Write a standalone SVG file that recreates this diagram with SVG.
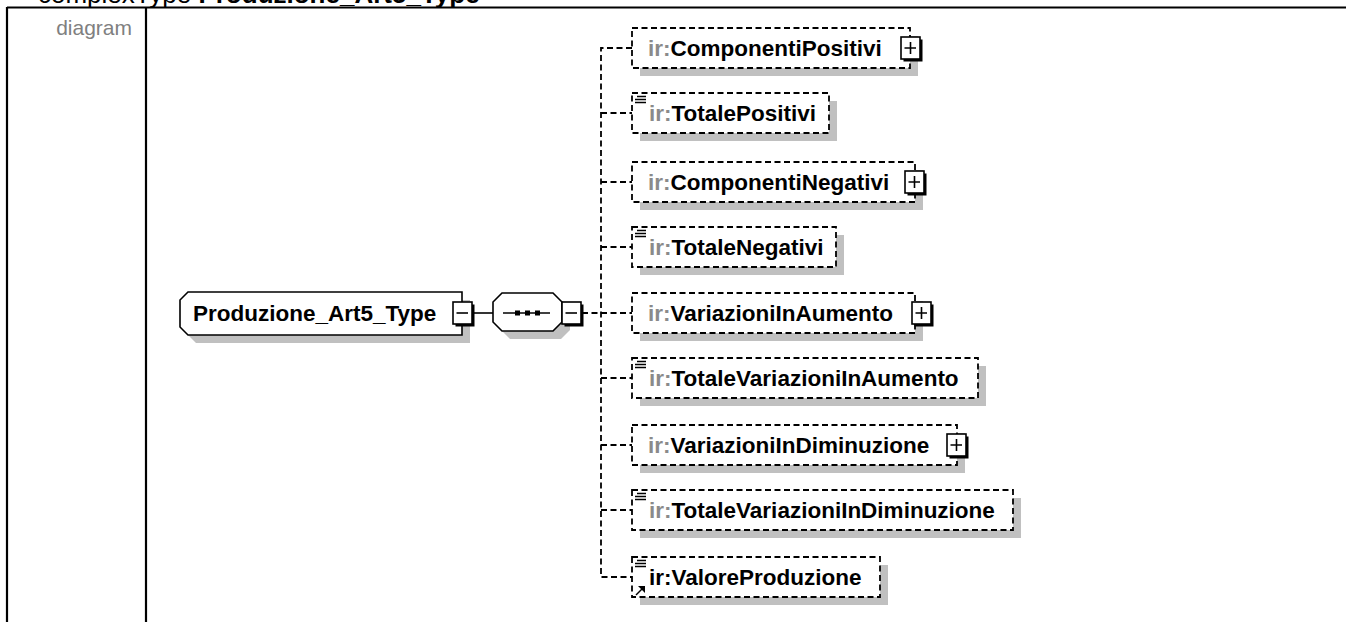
<svg xmlns="http://www.w3.org/2000/svg" width="1346" height="622" viewBox="0 0 1346 622">
<style>
.frame{stroke:#000;stroke-width:2.2;fill:none}
.hdr{font-family:"Liberation Sans",Arial,sans-serif;font-size:26px;fill:#000}
.lbl{font-family:"Liberation Sans",Arial,sans-serif;font-size:21px;fill:#808080}
.name{font-family:"Liberation Sans",Arial,sans-serif;font-size:22.5px;font-weight:bold;fill:#000}
.pfx{fill:#8a8a8a}
.shadow{fill:#c0c0c0}
.solid{fill:#fff;stroke:#000;stroke-width:1.6}
.dashed{fill:#fff;stroke:#000;stroke-width:1.8;stroke-dasharray:6 3.5}
.conn{fill:none;stroke:#000;stroke-width:1.6}
.dconn{fill:none;stroke:#000;stroke-width:1.8;stroke-dasharray:6 3.5}
.btn{fill:#fff;stroke:#000;stroke-width:1.6}
.btnsh{fill:#000}
.sign{stroke:#000;stroke-width:1.6;fill:none}
.icon{stroke:#000;stroke-width:1.4;fill:none}
</style>
<defs>
<g id="plus">
<rect class="btnsh" x="-7.5" y="-8.5" width="19" height="22"/>
<rect class="btn" x="-10" y="-11" width="19" height="22"/>
<path class="sign" d="M-6.5,0 H5 M-0.5,-6 V6"/>
</g>
<g id="minus">
<rect class="btnsh" x="-7.5" y="-8.5" width="19" height="22"/>
<rect class="btn" x="-10" y="-11" width="19" height="22"/>
<path class="sign" d="M-6.5,0 H5"/>
</g>
<g id="simple">
<path class="icon" d="M637,3.5 H646 M635,6.5 H646 M635,9.5 H646"/>
</g>
</defs>

<g id="frame">
<path class="frame" d="M7,7.5 H1346 M7,7 V622 M146,7 V622"/>
<text class="hdr" x="38" y="3">complexType <tspan font-weight="bold">Produzione_Art5_Type</tspan></text>
<text class="lbl" x="132" y="35" text-anchor="end">diagram</text>
</g>

<g id="connectors">
<path class="conn" d="M471,313 H493"/>
<path class="dconn" d="M582,313 H632"/>
<path class="dconn" d="M632,48 H601 V577 H632"/>
<path class="dconn" d="M601,113 H632 M601,182 H632 M601,247 H632 M601,378 H632 M601,445 H632 M601,510 H632"/>
</g>

<g id="root">
<path class="shadow" d="M196,300 H470 V343 H196 L188,335 V308 Z"/>
<path class="solid" d="M188,292 H462 V335 H188 L180,327 V300 Z"/>
<text class="name" x="193" y="321">Produzione_Art5_Type</text>
<use href="#minus" x="463" y="313"/>
</g>

<g id="sequence">
<path class="shadow" d="M510,301 H561 L570,310 V330 L561,339 H510 L501,330 V310 Z"/>
<path class="solid" d="M502,293 H553 L562,302 V322 L553,331 H502 L493,322 V302 Z"/>
<path class="sign" d="M503,313 H550"/>
<rect x="515" y="310.5" width="5" height="5" fill="#000"/>
<rect x="525" y="310.5" width="5" height="5" fill="#000"/>
<rect x="535" y="310.5" width="5" height="5" fill="#000"/>
<use href="#minus" x="572" y="313"/>
</g>

<g id="ComponentiPositivi">
<rect class="shadow" x="640" y="36" width="278" height="40"/>
<rect class="dashed" x="632" y="28" width="278" height="40"/>
<text class="name" x="648" y="56"><tspan class="pfx">ir:</tspan>ComponentiPositivi</text>
<use href="#plus" x="911" y="48"/>
</g>

<g id="TotalePositivi">
<rect class="shadow" x="640" y="101" width="197" height="40"/>
<rect class="dashed" x="632" y="93" width="197" height="40"/>
<use href="#simple" y="93"/>
<text class="name" x="649" y="121"><tspan class="pfx">ir:</tspan>TotalePositivi</text>
</g>

<g id="ComponentiNegativi">
<rect class="shadow" x="640" y="170" width="283" height="40"/>
<rect class="dashed" x="632" y="162" width="283" height="40"/>
<text class="name" x="648" y="190"><tspan class="pfx">ir:</tspan>ComponentiNegativi</text>
<use href="#plus" x="915" y="182"/>
</g>

<g id="TotaleNegativi">
<rect class="shadow" x="640" y="235" width="204" height="40"/>
<rect class="dashed" x="632" y="227" width="204" height="40"/>
<use href="#simple" y="227"/>
<text class="name" x="649" y="255"><tspan class="pfx">ir:</tspan>TotaleNegativi</text>
</g>

<g id="VariazioniInAumento">
<rect class="shadow" x="640" y="301" width="283" height="40"/>
<rect class="dashed" x="632" y="293" width="283" height="40"/>
<text class="name" x="648" y="321"><tspan class="pfx">ir:</tspan>VariazioniInAumento</text>
<use href="#plus" x="922" y="313"/>
</g>

<g id="TotaleVariazioniInAumento">
<rect class="shadow" x="640" y="366" width="346" height="40"/>
<rect class="dashed" x="632" y="358" width="346" height="40"/>
<use href="#simple" y="358"/>
<text class="name" x="649" y="386"><tspan class="pfx">ir:</tspan>TotaleVariazioniInAumento</text>
</g>

<g id="VariazioniInDiminuzione">
<rect class="shadow" x="640" y="433" width="325" height="40"/>
<rect class="dashed" x="632" y="425" width="325" height="40"/>
<text class="name" x="648" y="453"><tspan class="pfx">ir:</tspan>VariazioniInDiminuzione</text>
<use href="#plus" x="957" y="445"/>
</g>

<g id="TotaleVariazioniInDiminuzione">
<rect class="shadow" x="640" y="498" width="381" height="40"/>
<rect class="dashed" x="632" y="490" width="381" height="40"/>
<use href="#simple" y="490"/>
<text class="name" x="649" y="518"><tspan class="pfx">ir:</tspan>TotaleVariazioniInDiminuzione</text>
</g>

<g id="ValoreProduzione">
<rect class="shadow" x="640" y="565" width="248" height="40"/>
<rect class="dashed" x="632" y="557" width="248" height="40"/>
<use href="#simple" y="557"/>
<path class="icon" d="M636,595 L642,589" stroke-width="2"/>
<path d="M645,586 L645,593 L638,586 Z" fill="#000"/>
<text class="name" x="649" y="585">ir:ValoreProduzione</text>
</g>
</svg>
